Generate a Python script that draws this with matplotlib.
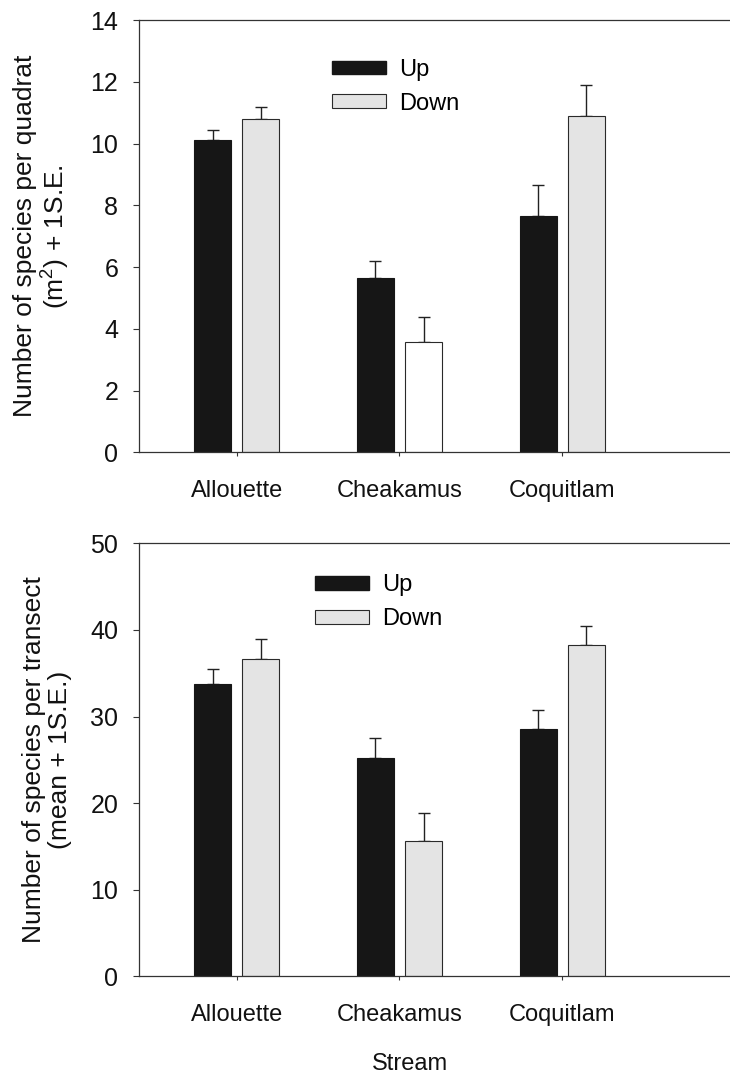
import numpy as np
import matplotlib
matplotlib.use("Agg")
import matplotlib.pyplot as plt
from matplotlib.patches import Patch

plt.rcParams['font.family'] = ['Liberation Sans', 'DejaVu Sans']
plt.rcParams['mathtext.fontset'] = 'custom'
plt.rcParams['mathtext.rm'] = 'Liberation Sans'
plt.rcParams['mathtext.it'] = 'Liberation Sans'

streams = ['Allouette', 'Cheakamus', 'Coquitlam']

# top panel: species per quadrat
quad_up = [10.1, 5.65, 7.66]
quad_up_se = [0.35, 0.53, 1.0]
quad_down = [10.79, 3.57, 10.89]
quad_down_se = [0.38, 0.82, 1.01]

# bottom panel: species per transect
tran_up = [33.8, 25.2, 28.5]
tran_up_se = [1.7, 2.35, 2.2]
tran_down = [36.6, 15.6, 38.3]
tran_down_se = [2.4, 3.2, 2.2]

UP_COL = '#161616'
DOWN_COL = '#e4e4e4'
EDGE = '#2a2a2a'

W, H = 730, 1077
fig = plt.figure(figsize=(W / 100, H / 100), dpi=100)

def px_axes(left, top, right, bottom):
    return fig.add_axes([left / W, 1 - bottom / H, (right - left) / W, (bottom - top) / H])

x = np.arange(1, len(streams) + 1)
bw = 0.228
off = 0.148


def draw_panel(ax, up, up_se, down, down_se, down_colors, ymax, ystep, ylabel, leg_anchor):
    ax.bar(x - off, up, width=bw, color=UP_COL, edgecolor=UP_COL, linewidth=0.8, zorder=2)
    ax.bar(x + off, down, width=bw, color=down_colors, edgecolor=EDGE, linewidth=0.8, zorder=2)
    ax.errorbar(x - off, up, yerr=[np.zeros(len(up)), up_se], fmt='none',
                ecolor='#222222', elinewidth=1.0, capsize=4, capthick=1.0, zorder=1)
    ax.errorbar(x + off, down, yerr=[np.zeros(len(down)), down_se], fmt='none',
                ecolor='#222222', elinewidth=1.0, capsize=4, capthick=1.0, zorder=1)
    ax.set_xlim(0.4, 4.03)
    ax.set_ylim(0, ymax)
    ax.set_yticks(np.arange(0, ymax + 1, ystep))
    ax.set_xticks(x)
    ax.set_xticklabels(streams)
    ax.spines['right'].set_visible(False)
    for s in ['left', 'bottom', 'top']:
        ax.spines[s].set_linewidth(0.9)
        ax.spines[s].set_color('#333333')
    ax.tick_params(axis='y', direction='out', length=4, width=0.8, pad=11,
                   labelsize=18, colors='#333333', labelcolor='#111111')
    ax.tick_params(axis='x', direction='out', length=3, width=0.8, pad=17,
                   labelsize=17, colors='#333333', labelcolor='#111111')
    ax.set_ylabel(ylabel, fontsize=19, color='#111111', linespacing=1.12)
    ax.yaxis.set_label_coords((72 - 139) / 591, 0.5)
    handles = [Patch(facecolor=UP_COL, edgecolor=UP_COL),
               Patch(facecolor=DOWN_COL, edgecolor=EDGE, linewidth=0.8)]
    ax.legend(handles, ['Up', 'Down'], loc='upper left', bbox_to_anchor=leg_anchor,
              frameon=False, fontsize=17, handlelength=2.3, handleheight=0.52,
              handletextpad=0.55, labelspacing=0.5, borderpad=0, borderaxespad=0)


ax1 = px_axes(139, 20, 730, 452.3)
draw_panel(ax1, quad_up, quad_up_se, quad_down, quad_down_se,
           [DOWN_COL, 'white', DOWN_COL], 14, 2,
           'Number of species per quadrat\n(m$^2$) + 1S.E.', (0.326, 0.91))

ax2 = px_axes(139, 543.3, 730, 976.3)
draw_panel(ax2, tran_up, tran_up_se, tran_down, tran_down_se,
           [DOWN_COL, DOWN_COL, DOWN_COL], 50, 10,
           'Number of species per transect\n(mean + 1S.E.)', (0.298, 0.928))

fig.text(410 / W, 1 - 1064 / H, 'Stream', ha='center', va='center', fontsize=17, color='#111111')

fig.savefig('out.png', dpi=100)
